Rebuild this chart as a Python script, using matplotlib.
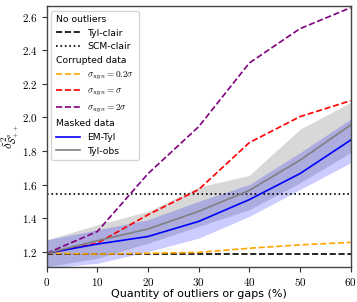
import numpy as np
import matplotlib
matplotlib.use("Agg")
import matplotlib.pyplot as plt
from matplotlib.lines import Line2D
from matplotlib.ticker import FuncFormatter

plt.rcParams['mathtext.fontset'] = 'cm'

# percentage of outliers / gaps
pct = [0, 10, 20, 30, 40, 50, 60]

# no outliers (flat references)
tyl_clair = [1.185] * 7
scm_clair = [1.545] * 7

# corrupted data
wgn_02 = [1.19, 1.185, 1.19, 1.195, 1.22, 1.24, 1.255]
wgn_1 = [1.19, 1.25, 1.42, 1.57, 1.85, 2.005, 2.10]
wgn_2 = [1.19, 1.32, 1.665, 1.945, 2.325, 2.53, 2.655]

# masked data
em_tyl = [1.19, 1.245, 1.29, 1.38, 1.51, 1.665, 1.865]
em_lo = [1.10, 1.13, 1.20, 1.28, 1.41, 1.57, 1.73]
em_hi = [1.27, 1.33, 1.39, 1.50, 1.60, 1.79, 1.99]
tyl_obs = [1.19, 1.265, 1.335, 1.44, 1.565, 1.745, 1.955]
obs_lo = [1.11, 1.16, 1.25, 1.35, 1.45, 1.61, 1.79]
obs_hi = [1.27, 1.36, 1.44, 1.585, 1.655, 1.93, 2.09]

fig = plt.figure(figsize=(3.57, 3.02), dpi=100)
ax = fig.add_axes([0.131, 0.117, 0.851, 0.863])

lw = 1.2
ax.fill_between(pct, obs_lo, obs_hi, color='gray', alpha=0.3, lw=0)
ax.fill_between(pct, em_lo, em_hi, color='blue', alpha=0.2, lw=0)
ax.plot(pct, tyl_clair, 'k--', lw=lw)
ax.plot(pct, scm_clair, 'k:', lw=lw)
ax.plot(pct, wgn_02, '--', color='orange', lw=lw)
ax.plot(pct, wgn_1, '--', color='red', lw=lw)
ax.plot(pct, wgn_2, '--', color='purple', lw=lw)
ax.plot(pct, em_tyl, '-', color='blue', lw=lw)
ax.plot(pct, tyl_obs, '-', color='gray', lw=lw)

ax.set_xlim(0, 60)
ax.set_ylim(1.11, 2.665)
ax.set_xticks([0, 10, 20, 30, 40, 50, 60])
ax.set_yticks([1.2, 1.4, 1.6, 1.8, 2.0, 2.2, 2.4, 2.6])
ax.xaxis.set_major_formatter(FuncFormatter(lambda v, p: r'$%g$' % v))
ax.yaxis.set_major_formatter(FuncFormatter(lambda v, p: r'$%.1f$' % v))
ax.tick_params(labelsize=8, length=3.5, pad=3, color='#333333')
for s in ax.spines.values():
    s.set_color('#444444')
    s.set_linewidth(1.0)

ax.set_xlabel('Quantity of outliers or gaps (%)', fontsize=8, labelpad=1)
ax.set_ylabel(r'$\delta^2_{\mathcal{S}^p_{++}}$', fontsize=9.5, labelpad=0)

blank = Line2D([], [], linestyle='none')
handles = [blank,
           Line2D([], [], color='k', ls='--', lw=lw),
           Line2D([], [], color='k', ls=':', lw=lw),
           blank,
           Line2D([], [], color='orange', ls='--', lw=lw),
           Line2D([], [], color='red', ls='--', lw=lw),
           Line2D([], [], color='purple', ls='--', lw=lw),
           blank,
           Line2D([], [], color='blue', lw=lw),
           Line2D([], [], color='gray', lw=lw)]
labels = ['No outliers', 'Tyl-clair', 'SCM-clair', 'Corrupted data',
          r'$\sigma_{wgn} = 0.2\sigma$', r'$\sigma_{wgn} = \sigma$',
          r'$\sigma_{wgn} = 2\sigma$', 'Masked data', 'EM-Tyl', 'Tyl-obs']
headers = ['No outliers', 'Corrupted data', 'Masked data']

fs = 6.7
leg = ax.legend(handles, labels, loc='upper left', fontsize=fs,
                handlelength=2.6, handletextpad=0.8, labelspacing=0.5,
                borderpad=0.45, borderaxespad=0.5)
# header rows: drop the handle area so the text starts at the left edge
for col in leg._legend_handle_box.get_children():
    for row in col.get_children():
        hbox, tbox = row.get_children()
        if tbox._text.get_text() in headers:
            hbox.width = 0
            row.sep = 0

fig.savefig('out.png', dpi=100)
